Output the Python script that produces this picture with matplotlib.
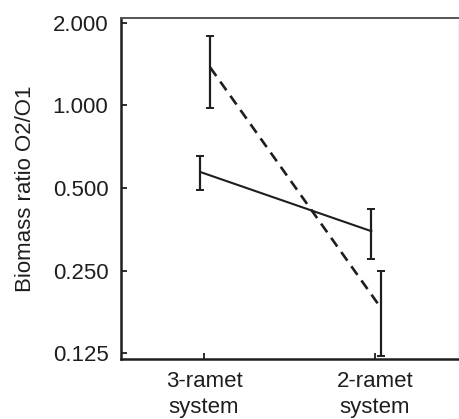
import numpy as np
import matplotlib
matplotlib.use('Agg')
import matplotlib.pyplot as plt
from matplotlib.ticker import FixedLocator, FixedFormatter, NullLocator

plt.rcParams['font.family'] = ['Liberation Sans', 'DejaVu Sans']

categories = ['3-ramet\nsystem', '2-ramet\nsystem']

# solid series
solid_mean = [0.572, 0.348]
solid_low = [0.492, 0.275]
solid_high = [0.654, 0.419]

# dashed series
dashed_mean = [1.376, 0.182]
dashed_low = [0.975, 0.122]
dashed_high = [1.785, 0.250]

yticks = [0.125, 0.25, 0.5, 1.0, 2.0]
ytick_labels = ['0.125', '0.250', '0.500', '1.000', '2.000']

ink = '#1e1e1e'

fig = plt.figure(figsize=(4.6, 4.19), dpi=100)
ax = fig.add_axes([0.263, 0.1432, 0.735, 0.814])

x = np.arange(len(categories))


def draw_series(offset, mean, low, high, ls, lw):
	xs = x + offset
	mean = np.array(mean)
	err = [mean - np.array(low), np.array(high) - mean]
	ax.plot(xs, mean, color=ink, linestyle=ls, linewidth=lw)
	ax.errorbar(xs, mean, yerr=err, fmt='none', ecolor=ink,
				elinewidth=1.6, capsize=3, capthick=1.4)


draw_series(-0.022, solid_mean, solid_low, solid_high, '-', 1.5)
draw_series(0.036, dashed_mean, dashed_low, dashed_high, (0, (4, 2.6)), 1.9)

ax.set_yscale('log', base=2)
ax.set_ylim(0.119, 2.085)
ax.set_xlim(-0.4855, 1.491)

ax.yaxis.set_major_locator(FixedLocator(yticks))
ax.yaxis.set_major_formatter(FixedFormatter(ytick_labels))
ax.yaxis.set_minor_locator(NullLocator())
ax.set_xticks(x)
ax.set_xticklabels(categories, linespacing=1.3)

ax.tick_params(axis='both', direction='in', length=4, width=1.3, colors=ink,
			   labelsize=16, labelcolor=ink)
ax.tick_params(axis='x', pad=9)
ax.tick_params(axis='y', pad=9)

ax.set_ylabel('Biomass ratio O2/O1', fontsize=16, color=ink, labelpad=12)

ax.spines['left'].set_linewidth(1.8)
ax.spines['bottom'].set_linewidth(1.8)
ax.spines['left'].set_color(ink)
ax.spines['bottom'].set_color(ink)
ax.spines['top'].set_linewidth(1.4)
ax.spines['top'].set_color('#555555')
ax.spines['right'].set_linewidth(1.0)
ax.spines['right'].set_color('#bbbbbb')

fig.savefig('out.png', dpi=100)
